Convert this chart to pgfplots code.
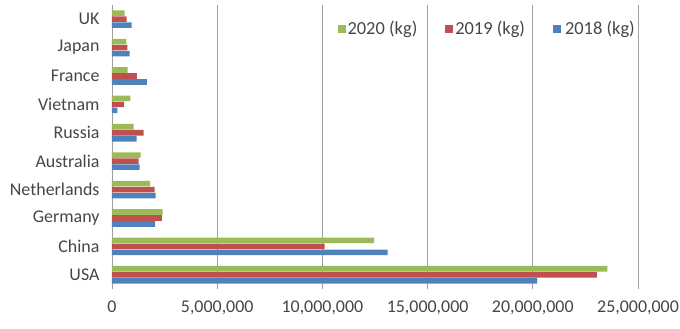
\documentclass[border=0pt]{standalone}
\usepackage{pgfplots}
\pgfplotsset{compat=1.18}
\usepackage{fontspec}
\setmainfont{Carlito}
\definecolor{cblue}{HTML}{4F81BD}
\definecolor{cred}{HTML}{C0504D}
\definecolor{cgreen}{HTML}{9BBB59}
\definecolor{gridc}{RGB}{160,160,160}
\definecolor{txt}{RGB}{70,70,70}
\begin{document}
\begin{tikzpicture}
\begin{axis}[
  name=a,
  scale only axis,
  width=526bp, height=284bp,
  xbar=0.4bp, bar width=5.6bp,
  xmin=0, xmax=25000000,
  ymin=-0.5, ymax=9.5,
  ytick={0,...,9},
  yticklabels={USA,China,Germany,Netherlands,Australia,Russia,Vietnam,France,Japan,UK},
  xtick={0,5000000,10000000,15000000,20000000,25000000},
  scaled x ticks=false,
  /pgf/number format/fixed,
  /pgf/number format/1000 sep={,},
  /pgf/number format/assume math mode=true,
  xmajorgrids, major grid style={gridc, line width=0.8bp},
  axis x line*=bottom, axis y line*=left,
  x axis line style={draw=none},
  y axis line style={gridc, line width=0.8bp},
  major tick length=0pt,
  tick label style={font=\fontsize{18}{21}\selectfont, text=txt},
  xticklabel style={yshift=-8bp},
  yticklabel style={xshift=-9bp},
  legend style={at={(1,1)}, anchor=north east, draw=none, fill=none, yshift=-12bp, xshift=2bp,
    font=\fontsize{18.5}{21}\selectfont, text=txt,
    /tikz/every even column/.append style={column sep=26bp}},
  legend columns=3,
  reverse legend,
  legend image code/.code={\fill[#1] (0bp,-4bp) rectangle (8bp,4bp);},
]
\addplot[fill=cblue, draw=none] coordinates {
(20200000,0) (13100000,1) (2050000,2) (2070000,3) (1310000,4) (1170000,5) (250000,6) (1660000,7) (840000,8) (930000,9)};
\addlegendentry{\hspace{2bp}2018 (kg)}
\addplot[fill=cred, draw=none] coordinates {
(23050000,0) (10100000,1) (2370000,2) (2020000,3) (1260000,4) (1500000,5) (580000,6) (1180000,7) (730000,8) (690000,9)};
\addlegendentry{2019 (kg)}
\addplot[fill=cgreen, draw=none] coordinates {
(23550000,0) (12460000,1) (2410000,2) (1810000,3) (1360000,4) (1030000,5) (870000,6) (740000,7) (680000,8) (600000,9)};
\addlegendentry{2020 (kg)}
\end{axis}
\pgfresetboundingbox
\path ([xshift=-112bp,yshift=-40bp]a.south west) rectangle ([xshift=42bp,yshift=5bp]a.north east);
\end{tikzpicture}
\end{document}
